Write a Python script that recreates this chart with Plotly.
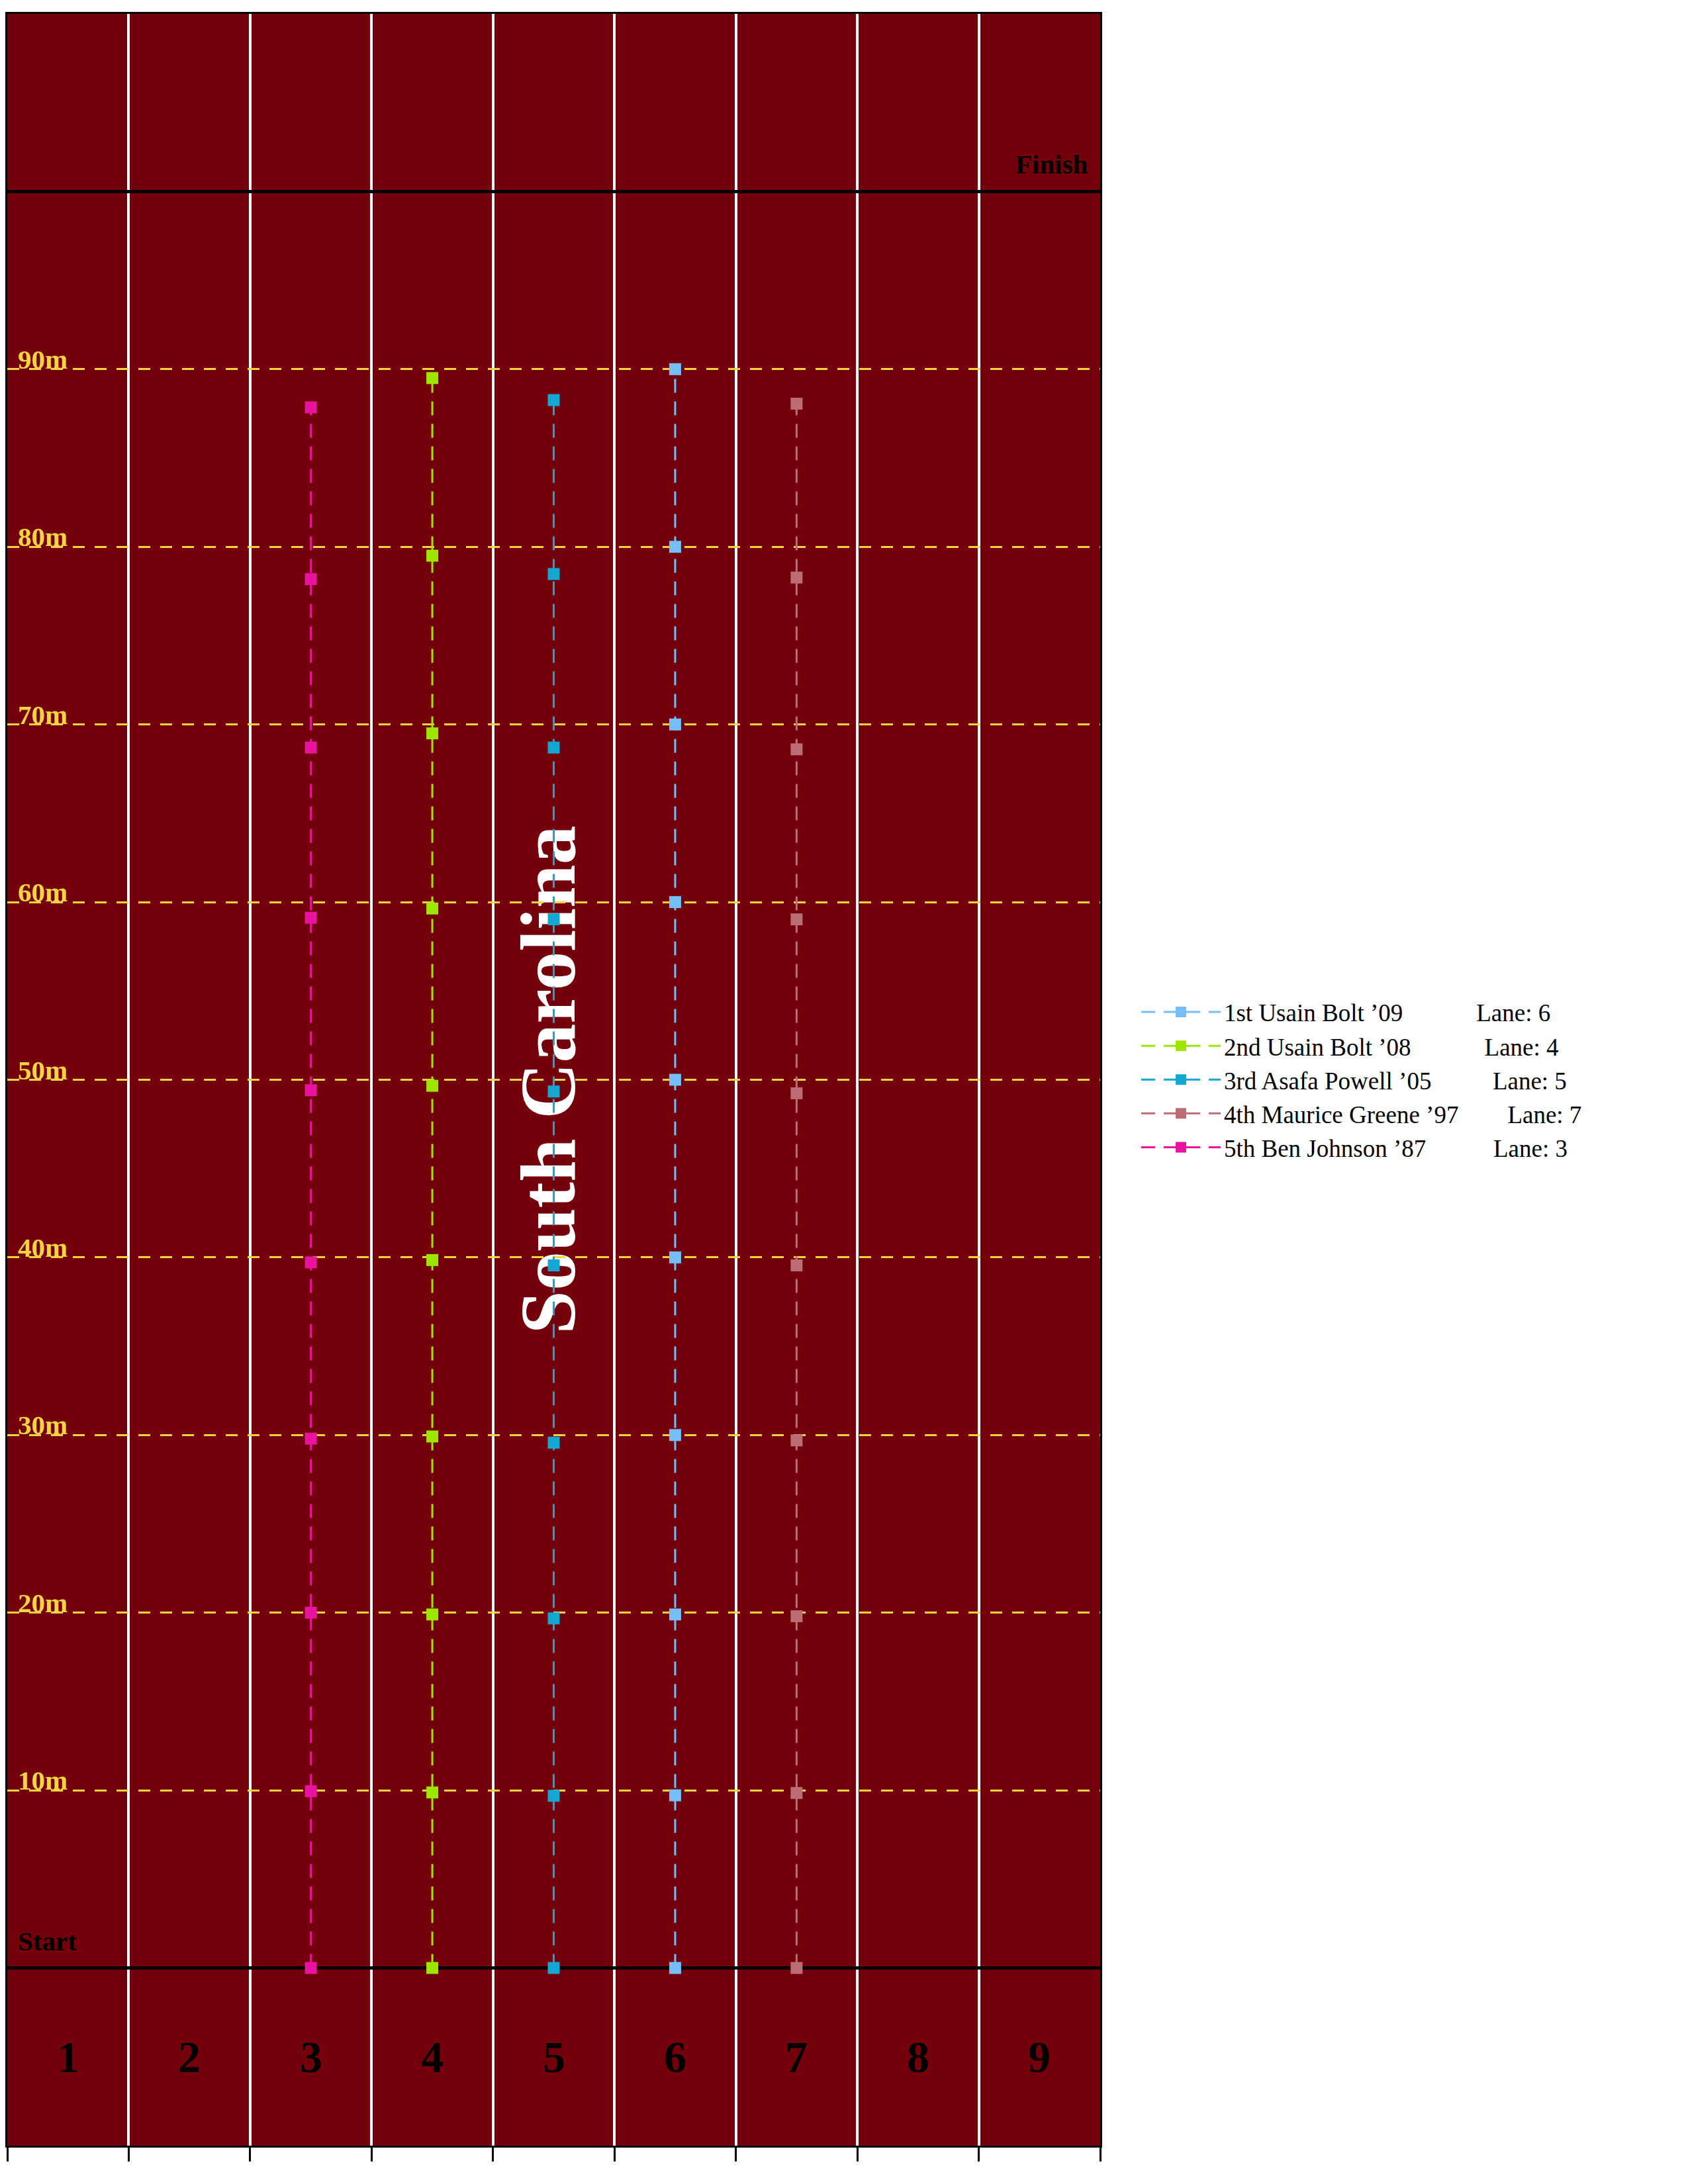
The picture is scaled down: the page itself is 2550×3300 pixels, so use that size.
import plotly.graph_objects as go

# ---------------- data ----------------
runners = ["1st Usain Bolt ’09", "2nd Usain Bolt ’08", "3rd Asafa Powell ’05",
           "4th Maurice Greene ’97", "5th Ben Johnson ’87"]
lanes = [6, 4, 5, 7, 3]
colors = ["#74BFF7", "#9DE600", "#13A7D1", "#BC6C75", "#E913A0"]

bolt09 = [0, 9.72, 19.9, 30, 40, 50, 60, 70, 80, 90]
bolt08 = [0, 9.88, 19.9, 29.92, 39.85, 49.66, 59.64, 69.5, 79.5, 89.5]
powell = [0, 9.69, 19.68, 29.57, 39.55, 49.34, 59.03, 68.7, 78.47, 88.26]
greene = [0, 9.85, 19.8, 29.7, 39.55, 49.24, 59.03, 68.6, 78.27, 88.06]
johnson = [0, 9.95, 20.0, 29.8, 39.72, 49.41, 59.12, 68.7, 78.18, 87.85]
positions = [bolt09, bolt08, powell, greene, johnson]

mark_vals = [10, 20, 30, 40, 50, 60, 70, 80, 90]
mark_text = ["10m", "20m", "30m", "40m", "50m", "60m", "70m", "80m", "90m"]
lane_numbers = [1, 2, 3, 4, 5, 6, 7, 8, 9]
title_text = "South Carolina"

SERIF = "Liberation Serif, Times New Roman, serif"
GARNET = "#73000A"
YELLOW = "#F2D541"

fig = go.Figure()

for name, lane, col, ys in zip(runners, lanes, colors, positions):
    label = name + "\u00a0" * (30 - len(name)) + f"Lane: {lane}"
    fig.add_trace(go.Scatter(
        x=[lane - 0.5] * len(ys), y=ys, mode="lines+markers", name=label,
        line=dict(color=col, width=3, dash="21px,13px"),
        marker=dict(symbol="square", size=18, color=col),
    ))

# start / finish lines
fig.add_shape(type="line", x0=0, x1=9, y0=0, y1=0, layer="between",
              line=dict(color="black", width=5))
fig.add_shape(type="line", x0=0, x1=9, y0=100, y1=100, layer="between",
              line=dict(color="black", width=5))

# big rotated title text, under the grid
fig.add_shape(type="rect", x0=3.77, x1=5, y0=30, y1=70, layer="below",
              line=dict(width=0), fillcolor="rgba(0,0,0,0)",
              label=dict(text=title_text, textangle=-90, textposition="middle center",
                         font=dict(family=SERIF, size=118, color="white", weight="bold")))

annotations = []
for v, t in zip(mark_vals, mark_text):
    annotations.append(dict(x=0, y=v, xref="x", yref="y", text=t, showarrow=False,
                            xanchor="left", yanchor="bottom", xshift=14, yshift=-10,
                            font=dict(family=SERIF, size=41, color=YELLOW, weight="bold")))
annotations.append(dict(x=0, y=0, xref="x", yref="y", text="Start", showarrow=False,
                        xanchor="left", yanchor="bottom", xshift=14, yshift=16,
                        font=dict(family=SERIF, size=41, color="black", weight="bold")))
annotations.append(dict(x=9, y=100, xref="x", yref="y", text="Finish", showarrow=False,
                        xanchor="right", yanchor="bottom", xshift=-16, yshift=16,
                        font=dict(family=SERIF, size=41, color="black", weight="bold")))
for n in lane_numbers:
    annotations.append(dict(x=n - 0.5, y=-5, xref="x", yref="y", text=str(n), showarrow=False,
                            xanchor="center", yanchor="middle",
                            font=dict(family=SERIF, size=68, color="black", weight="bold")))

fig.update_layout(
    width=2550, height=3300,
    margin=dict(l=11, r=888, t=21, b=58),
    paper_bgcolor="white", plot_bgcolor=GARNET,
    font=dict(family=SERIF, color="black"),
    showlegend=True,
    legend=dict(x=1.0345, y=0.5, xanchor="left", yanchor="middle",
                font=dict(family=SERIF, size=37, color="black"),
                itemwidth=120, bgcolor="rgba(255,255,255,0)", borderwidth=0),
    annotations=annotations,
)
fig.update_xaxes(range=[0, 9], tickmode="linear", tick0=0, dtick=1,
                 showticklabels=False, ticks="outside", ticklen=21, tickwidth=3,
                 tickcolor="black", showgrid=True, gridcolor="white", gridwidth=4,
                 zeroline=False, showline=True, linecolor="black", linewidth=3,
                 mirror=True)
fig.update_yaxes(range=[-10, 110], tickmode="array", tickvals=mark_vals,
                 showticklabels=False, ticks="", showgrid=True, gridcolor=YELLOW,
                 gridwidth=3, griddash="18px,15px", zeroline=False, showline=True,
                 linecolor="black", linewidth=3, mirror=True)

fig.write_html("out.html")
